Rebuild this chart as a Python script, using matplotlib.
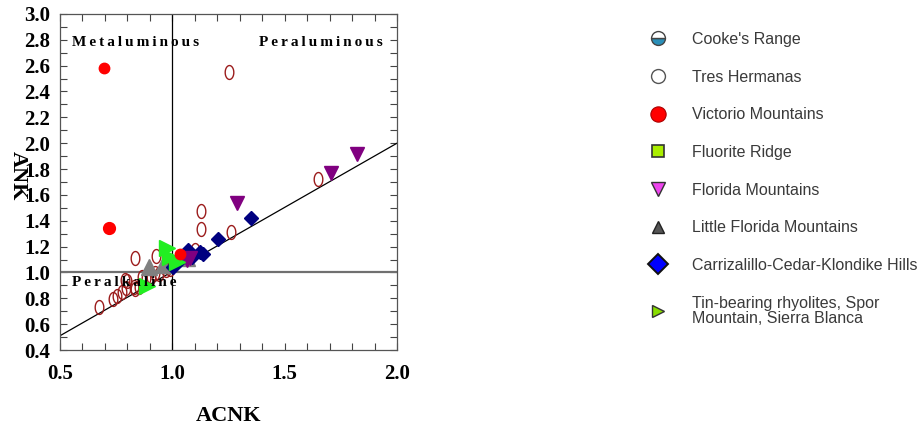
import numpy as np
import matplotlib
matplotlib.use("Agg")
import matplotlib.pyplot as plt
from matplotlib.lines import Line2D
from matplotlib.path import Path

# ---- data ----
tres_x = [1.25, 1.65, 1.127, 1.127, 1.26, 1.10, 0.832, 0.927, 0.923, 0.99,
          0.675, 0.734, 0.755, 0.776, 0.795, 0.80, 0.83, 0.835, 0.864, 0.885,
          0.905, 0.789, 0.85, 0.942, 0.972]
tres_y = [2.549, 1.72, 1.475, 1.336, 1.31, 1.17, 1.114, 1.127, 0.993, 1.03,
          0.73, 0.795, 0.82, 0.85, 0.88, 0.93, 0.885, 0.87, 0.967, 0.96,
          0.965, 0.94, 0.89, 0.99, 1.02]

victorio_x = [0.697, 0.72, 1.032]
victorio_y = [2.584, 1.346, 1.14]

florida_x = [1.82, 1.706, 1.289, 1.064, 1.08]
florida_y = [1.92, 1.77, 1.54, 1.096, 1.11]

little_florida_x = [0.897, 0.96, 1.064]
little_florida_y = [1.044, 1.057, 1.11]

carrizalillo_x = [1.35, 1.204, 1.123, 1.135, 1.071, 1.086, 1.034, 1.004]
carrizalillo_y = [1.42, 1.256, 1.16, 1.145, 1.17, 1.12, 1.096, 1.044]

tin_x = [0.975, 0.99, 1.02, 0.886]
tin_y = [1.19, 1.12, 1.08, 0.897]

ref_line_x = [0.5, 2.0]
ref_line_y = [0.51, 2.0]

legend_labels = [
    "Cooke's Range",
    "Tres Hermanas",
    "Victorio Mountains",
    "Fluorite Ridge",
    "Florida Mountains",
    "Little Florida Mountains",
    "Carrizalillo-Cedar-Klondike Hills",
    "Tin-bearing rhyolites, Spor\nMountain, Sierra Blanca",
]

serif = "Liberation Serif"
TS = "\u2009"  # thin space for the letter-spaced region names


def spaced(word):
    return TS.join(word)


# tall open ellipse marker for Tres Hermanas
theta = np.linspace(0, 2 * np.pi, 60)
ellipse = Path(np.column_stack([0.62 * np.cos(theta), np.sin(theta)]), closed=True)

fig = plt.figure(figsize=(9.21, 4.26), dpi=100)
ax = fig.add_axes([0.0651, 0.1784, 0.366, 0.789])

ax.plot(ref_line_x, ref_line_y, color="black", lw=0.9, zorder=2)
ax.axvline(1.0, color="black", lw=0.9, zorder=2)
ax.axhline(1.0, color="#707070", lw=1.6, zorder=2)

ax.plot(tres_x, tres_y, linestyle="none", marker=ellipse, ms=10,
        mfc="none", mec="#9b1c1c", mew=1.0, zorder=3)
ax.plot(little_florida_x, little_florida_y, linestyle="none", marker="^",
        ms=11, color="#808080", zorder=4)
ax.plot(carrizalillo_x, carrizalillo_y, linestyle="none", marker="D",
        ms=7.5, color="#000080", zorder=5)
ax.plot(florida_x, florida_y, linestyle="none", marker="v", ms=10,
        color="#800080", zorder=5)
ax.plot(tin_x, tin_y, linestyle="none", marker=">", ms=11,
        color="#22ee22", zorder=6)
ax.plot(victorio_x, victorio_y, linestyle="none", marker="o", ms=7.5,
        color="#ff0000", zorder=7)
ax.plot(victorio_x[1:2], victorio_y[1:2], linestyle="none", marker="o", ms=8.5,
        color="#ff0000", zorder=7)

ax.set_xlim(0.5, 2.0)
ax.set_ylim(0.4, 3.0)
ax.set_xticks([0.5, 1.0, 1.5, 2.0])
ax.set_xticklabels(["0.5", "1.0", "1.5", "2.0"])
ax.set_xticks(np.arange(0.5, 2.01, 0.1), minor=True)
ax.set_yticks(np.arange(0.4, 3.01, 0.2))
ax.set_yticklabels([f"{v:.1f}" for v in np.arange(0.4, 3.01, 0.2)])
ax.set_yticks(np.arange(0.4, 3.01, 0.1), minor=True)
ax.tick_params(which="both", direction="in", top=True, right=True,
               length=5, width=0.8, color="#444444")
ax.tick_params(which="major", labelsize=15, pad=7)
ax.tick_params(axis="x", which="major", pad=10)
for lab in ax.get_xticklabels() + ax.get_yticklabels():
    lab.set_family(serif)
    lab.set_fontweight("bold")
for sp in ax.spines.values():
    sp.set_color("#555555")
    sp.set_linewidth(0.9)

ax.text(0.553, 2.78, spaced("Metaluminous"), family=serif, fontweight="bold",
        fontsize=11, va="center", ha="left", zorder=8)
ax.text(1.937, 2.78, spaced("Peraluminous"), family=serif, fontweight="bold",
        fontsize=11, va="center", ha="right", zorder=8)
ax.text(0.553, 0.92, spaced("Peralkaline"), family=serif, fontweight="bold",
        fontsize=11, va="center", ha="left", zorder=8)

ax.set_xlabel("ACNK", family=serif, fontweight="bold", fontsize=16, labelpad=16)
fig.text(0.019, 0.587, "ANK", family=serif, fontweight="bold", fontsize=16,
         rotation=-90, ha="center", va="center")

handles = [
    Line2D([], [], linestyle="none", marker="o", ms=10, fillstyle="bottom",
           mfc="#2a8fb8", mfcalt="white", mec="#444444", mew=1.0),
    Line2D([], [], linestyle="none", marker="o", ms=10, mfc="white",
           mec="#555555", mew=1.0),
    Line2D([], [], linestyle="none", marker="o", ms=11, mfc="#ff0000",
           mec="#aa0000", mew=0.8),
    Line2D([], [], linestyle="none", marker="s", ms=9, mfc="#aaee00",
           mec="#333333", mew=1.2),
    Line2D([], [], linestyle="none", marker="v", ms=10, mfc="#ee44ee",
           mec="#333333", mew=1.0),
    Line2D([], [], linestyle="none", marker="^", ms=9, mfc="#555555",
           mec="#222222", mew=1.0),
    Line2D([], [], linestyle="none", marker="D", ms=10, mfc="#0000ff",
           mec="#111111", mew=1.4),
    Line2D([], [], linestyle="none", marker=">", ms=9, mfc="#88dd00",
           mec="#333333", mew=1.0),
]
leg = fig.legend(handles, legend_labels, loc="upper left",
                 bbox_to_anchor=(0.706, 0.925), frameon=False, fontsize=11.5,
                 handlelength=1.0, handletextpad=1.6, labelspacing=1.42,
                 borderpad=0, borderaxespad=0)
for t in leg.get_texts():
    t.set_color("#3a3a3a")
    t.set_family("Liberation Sans")
    t.set_linespacing(1.0)

fig.savefig("out.png", dpi=100)
